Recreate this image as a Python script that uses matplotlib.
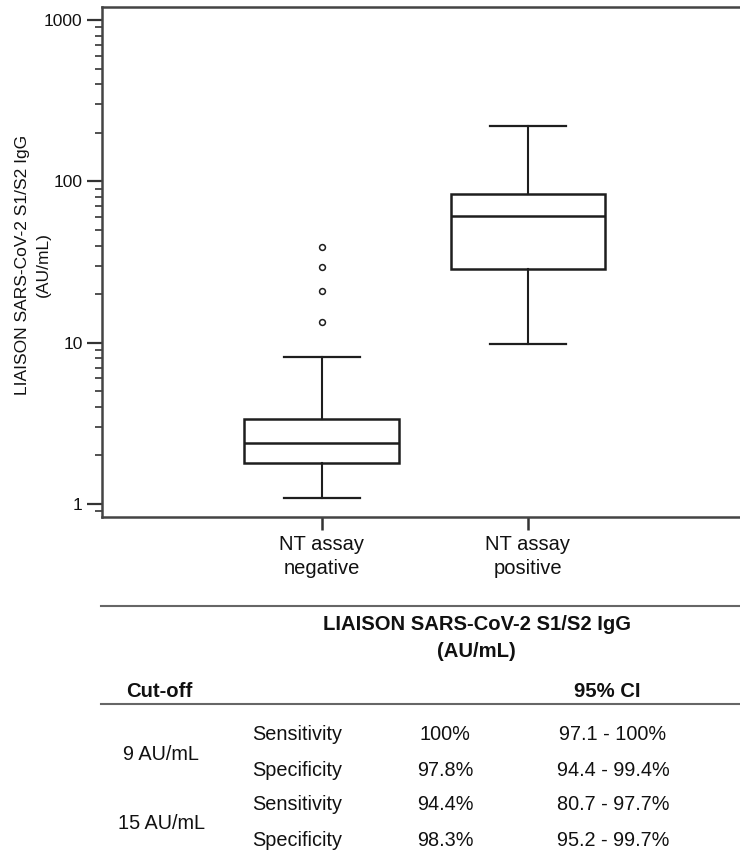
import matplotlib
matplotlib.use("Agg")
import matplotlib.pyplot as plt
from matplotlib import ticker
from matplotlib.lines import Line2D

plt.rcParams['font.family'] = ['Liberation Sans', 'DejaVu Sans']

# box plot values (AU/mL)
groups = ["NT assay\nnegative", "NT assay\npositive"]
whislo = [1.09, 9.77]
q1 = [1.80, 28.5]
med = [2.38, 61.3]
q3 = [3.38, 83.5]
whishi = [8.19, 220.0]
fliers = [[13.4, 21.0, 29.6, 39.4], []]

y_ticks = [1, 10, 100, 1000]

# table below the chart
cutoffs = ["9 AU/mL", "15 AU/mL"]
measures = ["Sensitivity", "Specificity", "Sensitivity", "Specificity"]
values = ["100%", "97.8%", "94.4%", "98.3%"]
ci95 = ["97.1 - 100%", "94.4 - 99.4%", "80.7 - 97.7%", "95.2 - 99.7%"]

W, H = 740, 865
fig = plt.figure(figsize=(W / 100, H / 100), dpi=100)


def fx(px):
    return px / W


def fy(py):
    return 1 - py / H


ax = fig.add_axes([fx(102), fy(516.7), fx(740) - fx(102), fy(7) - fy(516.7)])

stats = []
for i in range(len(groups)):
    stats.append(dict(whislo=whislo[i], q1=q1[i], med=med[i], q3=q3[i],
                      whishi=whishi[i], fliers=fliers[i], label=groups[i]))

line_c = "#1e1e1e"
ax.bxp(stats, positions=[1, 2], widths=0.75, capwidths=0.37,
       showfliers=True, patch_artist=True,
       boxprops=dict(facecolor="white", edgecolor=line_c, linewidth=1.8),
       medianprops=dict(color=line_c, linewidth=1.8),
       whiskerprops=dict(color=line_c, linewidth=1.5),
       capprops=dict(color=line_c, linewidth=1.6),
       flierprops=dict(marker="o", markersize=4.2, markerfacecolor="white",
                       markeredgecolor=line_c, markeredgewidth=1.1))

ax.set_yscale("log")
ax.set_ylim(0.834, 1205)
ax.set_xlim(-0.0665, 3.03)

ax.yaxis.set_major_locator(ticker.FixedLocator(y_ticks))
ax.yaxis.set_major_formatter(ticker.FixedFormatter([str(t) for t in y_ticks]))
ax.yaxis.set_minor_locator(ticker.LogLocator(base=10, subs=range(2, 10)))
ax.yaxis.set_minor_formatter(ticker.NullFormatter())

ax.set_xticks([1, 2])
ax.set_xticklabels(groups, fontsize=14.5, color="#111111", linespacing=1.3)

ax.tick_params(axis="y", which="major", length=10.5, width=1.6, color="#333333",
               labelsize=12.5, pad=3.5, labelcolor="#111111")
ax.tick_params(axis="y", which="minor", length=5, width=1.2, color="#333333")
ax.tick_params(axis="x", which="major", length=9.5, width=1.8, color="#333333",
               pad=4)

ax.spines["right"].set_visible(False)
for s in ["left", "top", "bottom"]:
    ax.spines[s].set_color("#444444")
    ax.spines[s].set_linewidth(1.8)

fig.text(fx(33), fy(265), "LIAISON SARS-CoV-2 S1/S2 IgG\n(AU/mL)",
         rotation=90, ha="center", va="center", multialignment="center",
         fontsize=12.5, color="#111111", linespacing=1.55)

# table rules
for ly in [606, 704.3]:
    fig.add_artist(Line2D([fx(101), 1.0], [fy(ly), fy(ly)], color="#666666",
                          linewidth=1.5))

tc = "#111111"
fig.text(fx(476.7), fy(624.3), "LIAISON SARS-CoV-2 S1/S2 IgG", ha="center",
         va="center", fontsize=14.6, fontweight="bold", color=tc)
fig.text(fx(476.7), fy(651.7), "(AU/mL)", ha="center", va="center",
         fontsize=14.6, fontweight="bold", color=tc)
fig.text(fx(159), fy(691.7), "Cut-off", ha="center", va="center",
         fontsize=14.6, fontweight="bold", color=tc)
fig.text(fx(607.5), fy(691.7), "95% CI", ha="center", va="center",
         fontsize=14.6, fontweight="bold", color=tc)

row_y = [735, 770, 805, 840]
cut_y = [754.3, 823.3]
for cy, c in zip(cut_y, cutoffs):
    fig.text(fx(161.3), fy(cy), c, ha="center", va="center", fontsize=14.3,
             color=tc)
for ry, m, v, c in zip(row_y, measures, values, ci95):
    fig.text(fx(297), fy(ry), m, ha="center", va="center", fontsize=14.3,
             color=tc)
    fig.text(fx(445), fy(ry), v, ha="center", va="center", fontsize=14.3,
             color=tc)
    fig.text(fx(613), fy(ry), c, ha="center", va="center", fontsize=14.3,
             color=tc)

fig.savefig("out.png", dpi=100, facecolor="white")
